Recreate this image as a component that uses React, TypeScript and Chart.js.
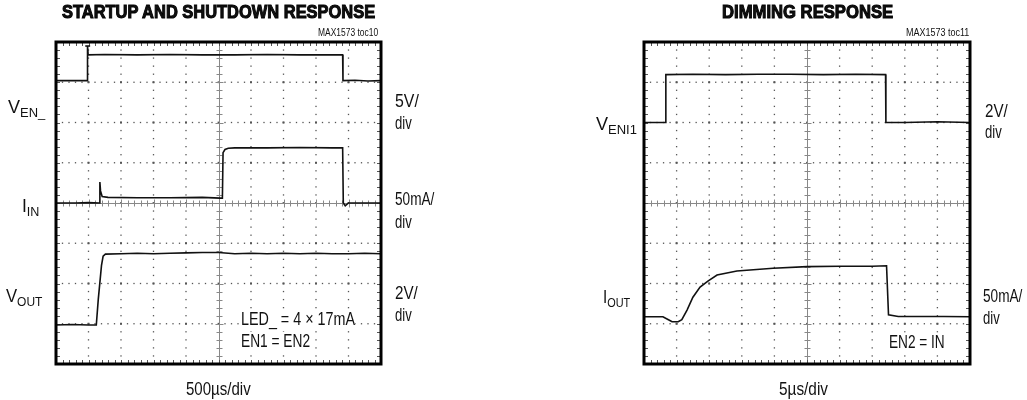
import React, { useEffect, useLayoutEffect, useRef } from "react";
import { Chart, registerables } from "chart.js";

Chart.register(...registerables);

// ---- Data (x in time divisions 0..10, y in screen divisions 0..8 from bottom) ----
// Left panel: STARTUP AND SHUTDOWN RESPONSE
const venTime = [0, 0.5, 0.97, 0.97, 0.99, 1.5, 2.5, 3.5, 4.5, 5.5, 6.5, 7.5, 8.5, 8.82, 8.83, 9.2, 9.6, 10];
const venLevel = [7.04, 7.04, 7.04, 7.9, 7.68, 7.69, 7.68, 7.69, 7.68, 7.68, 7.69, 7.68, 7.68, 7.68, 7.04, 7.05, 7.03, 7.04];
const trigTime = [0.9, 1.05];
const trigLevel = [7.9, 7.9];
const iinTime = [0, 0.6, 1.0, 1.33, 1.35, 1.37, 1.42, 1.6, 2.5, 3.5, 4.5, 5.05, 5.12, 5.14, 5.2, 5.3, 5.5, 6.5, 7.5, 8.5, 8.82, 8.84, 8.9, 9.0, 9.5, 10];
const iinLevel = [4.0, 4.0, 4.01, 4.0, 4.52, 4.3, 4.16, 4.14, 4.13, 4.13, 4.14, 4.12, 4.12, 5.25, 5.33, 5.36, 5.37, 5.37, 5.38, 5.37, 5.37, 4.0, 3.93, 4.0, 4.0, 4.0];
const voutTime = [0, 0.5, 1.0, 1.24, 1.3, 1.4, 1.45, 1.52, 2.0, 2.5, 3.0, 3.5, 4.0, 4.5, 5.0, 5.5, 6.0, 6.5, 7.0, 7.5, 8.0, 8.5, 9.0, 9.5, 10];
const voutLevel = [0.97, 0.98, 0.97, 0.97, 1.6, 2.45, 2.68, 2.73, 2.74, 2.75, 2.74, 2.75, 2.76, 2.77, 2.77, 2.74, 2.75, 2.74, 2.75, 2.74, 2.75, 2.74, 2.74, 2.75, 2.74];

// Right panel: DIMMING RESPONSE
const veniTime = [0, 0.3, 0.66, 0.67, 1.5, 2.5, 3.5, 4.5, 5.5, 6.5, 7.41, 7.42, 8.0, 9.0, 10];
const veniLevel = [6.0, 6.0, 6.0, 7.19, 7.2, 7.19, 7.2, 7.2, 7.19, 7.2, 7.19, 6.0, 6.0, 6.02, 6.0];
const ioutTime = [0, 0.3, 0.58, 0.75, 0.86, 1.05, 1.16, 1.32, 1.5, 1.72, 1.96, 2.24, 2.85, 3.96, 5.0, 6.0, 7.0, 7.44, 7.5, 7.8, 8.5, 9.2, 10];
const ioutLevel = [1.175, 1.175, 1.175, 1.1, 1.05, 1.05, 1.1, 1.34, 1.66, 1.91, 2.06, 2.21, 2.31, 2.38, 2.42, 2.43, 2.43, 2.44, 1.22, 1.18, 1.18, 1.18, 1.175];

const pts = (t: number[], v: number[]) => t.map((x, i) => ({ x, y: v[i] }));

const scopeGrid = {
  id: "scopeGrid",
  beforeDatasetsDraw(chart: any) {
    const { ctx, chartArea: a, scales } = chart;
    const x = scales.x;
    const y = scales.y;
    ctx.save();
    ctx.fillStyle = "#555";
    for (let d = 1; d < 8; d++) {
      if (d === 4) continue;
      const py = y.getPixelForValue(d);
      for (let i = 1; i < 50; i++) {
        const px = x.getPixelForValue(i / 5);
        const s = i % 5 === 0 ? 1.8 : 1.3;
        ctx.fillRect(px - s / 2, py - s / 2, s, s);
      }
    }
    for (let t = 1; t < 10; t++) {
      if (t === 5) continue;
      const px = x.getPixelForValue(t);
      for (let i = 1; i < 40; i++) {
        const py = y.getPixelForValue(i / 5);
        const s = i % 5 === 0 ? 1.8 : 1.3;
        ctx.fillRect(px - s / 2, py - s / 2, s, s);
      }
    }
    ctx.strokeStyle = "#888";
    ctx.lineWidth = 1;
    const cy = Math.round(y.getPixelForValue(4)) + 0.5;
    const cx = Math.round(x.getPixelForValue(5)) + 0.5;
    ctx.beginPath();
    ctx.moveTo(a.left, cy);
    ctx.lineTo(a.right, cy);
    ctx.moveTo(cx, a.top);
    ctx.lineTo(cx, a.bottom);
    for (let i = 1; i < 50; i++) {
      const px = Math.round(x.getPixelForValue(i / 5)) + 0.5;
      const l = i % 5 === 0 ? 4 : 3;
      ctx.moveTo(px, cy - l);
      ctx.lineTo(px, cy + l);
    }
    for (let i = 1; i < 40; i++) {
      const py = Math.round(y.getPixelForValue(i / 5)) + 0.5;
      const l = i % 5 === 0 ? 4 : 3;
      ctx.moveTo(cx - l, py);
      ctx.lineTo(cx + l, py);
    }
    ctx.stroke();
    ctx.strokeStyle = "#555";
    ctx.beginPath();
    for (let i = 1; i < 50; i++) {
      const px = Math.round(x.getPixelForValue(i / 5)) + 0.5;
      ctx.moveTo(px, a.top);
      ctx.lineTo(px, a.top + 4);
      ctx.moveTo(px, a.bottom);
      ctx.lineTo(px, a.bottom - 4);
    }
    for (let i = 1; i < 40; i++) {
      const py = Math.round(y.getPixelForValue(i / 5)) + 0.5;
      ctx.moveTo(a.left, py);
      ctx.lineTo(a.left + 4, py);
      ctx.moveTo(a.right, py);
      ctx.lineTo(a.right - 4, py);
    }
    ctx.stroke();
    ctx.restore();
  },
  afterDraw(chart: any) {
    const { ctx, chartArea: a } = chart;
    ctx.save();
    ctx.strokeStyle = "#000";
    ctx.lineWidth = 3;
    ctx.strokeRect(a.left, a.top, a.right - a.left, a.bottom - a.top);
    ctx.restore();
  },
};

function makeChart(canvas: HTMLCanvasElement, series: { x: number; y: number }[][], padding: any) {
  return new Chart(canvas, {
    type: "line",
    data: {
      datasets: series.map((d) => ({
        data: d,
        borderColor: "#111",
        borderWidth: 1.6,
        pointRadius: 0,
        fill: false,
        tension: 0,
      })),
    },
    options: {
      responsive: false,
      animation: false,
      layout: { padding },
      plugins: { legend: { display: false }, tooltip: { enabled: false }, title: { display: false } },
      scales: {
        x: { type: "linear", min: 0, max: 10, display: false },
        y: { type: "linear", min: 0, max: 8, display: false },
      },
    },
    plugins: [scopeGrid],
  } as any);
}

type LabelProps = {
  x: number;
  y: number;
  w: number;
  size: number;
  bold?: boolean;
  bg?: boolean;
  align?: "left" | "center" | "right";
  children: React.ReactNode;
};

function Label({ x, y, w, size, bold, bg, align = "left", children }: LabelProps) {
  const ref = useRef<HTMLSpanElement>(null);
  useLayoutEffect(() => {
    const el = ref.current;
    if (!el) return;
    const nat = el.offsetWidth || 1;
    const s = w / nat;
    let left = x;
    if (align === "center") left = x - w / 2;
    if (align === "right") left = x - w;
    el.style.left = left + "px";
    el.style.transform = `translateY(-50%) scaleX(${s})`;
  });
  return (
    <span
      ref={ref}
      style={{
        position: "absolute",
        left: x,
        top: y,
        fontSize: size,
        fontFamily: "'Liberation Sans', Arial, Helvetica, sans-serif",
        fontWeight: bold ? 700 : 400,
        WebkitTextStroke: bold ? "1px #000" : undefined,
        color: "#111",
        background: bg ? "#fff" : undefined,
        whiteSpace: "nowrap",
        lineHeight: 1,
        transformOrigin: "0 50%",
        display: "inline-block",
      }}
    >
      {children}
    </span>
  );
}

const Sub = ({ children }: { children: React.ReactNode }) => (
  <span style={{ fontSize: "0.72em", position: "relative", top: "0.3em" }}>{children}</span>
);

export default function App() {
  const leftRef = useRef<HTMLCanvasElement>(null);
  const rightRef = useRef<HTMLCanvasElement>(null);

  useEffect(() => {
    const c1 = makeChart(
      leftRef.current!,
      [pts(venTime, venLevel), pts(trigTime, trigLevel), pts(iinTime, iinLevel), pts(voutTime, voutLevel)],
      { left: 56, right: 132, top: 42, bottom: 36 }
    );
    const c2 = makeChart(
      rightRef.current!,
      [pts(veniTime, veniLevel), pts(ioutTime, ioutLevel)],
      { left: 131, right: 57, top: 42, bottom: 36 }
    );
    return () => {
      c1.destroy();
      c2.destroy();
    };
  }, []);

  const fs = 18.5;
  return (
    <div style={{ position: "absolute", left: 0, top: 0, width: 1027, height: 400, background: "#fff", overflow: "hidden" }}>
      <canvas ref={leftRef} width={513} height={400} style={{ position: "absolute", left: 0, top: 0 }} />
      <canvas ref={rightRef} width={514} height={400} style={{ position: "absolute", left: 513, top: 0 }} />

      {/* Left panel text */}
      <Label x={218} y={12} w={313} size={18.5} bold align="center">STARTUP AND SHUTDOWN RESPONSE</Label>
      <Label x={378} y={33} w={60} size={10} align="right">MAX1573 toc10</Label>
      <Label x={8} y={107} w={37} size={fs}>V<Sub>EN_</Sub></Label>
      <Label x={395} y={101} w={24} size={fs}>5V/</Label>
      <Label x={395} y={123} w={17} size={fs}>div</Label>
      <Label x={22} y={206} w={17} size={fs}>I<Sub>IN</Sub></Label>
      <Label x={395} y={199} w={39} size={fs}>50mA/</Label>
      <Label x={395} y={222} w={17} size={fs}>div</Label>
      <Label x={6} y={296} w={36} size={fs}>V<Sub>OUT</Sub></Label>
      <Label x={395} y={293} w={23} size={fs}>2V/</Label>
      <Label x={395} y={315} w={17} size={fs}>div</Label>
      <Label x={241} y={319} w={114} size={fs} bg>LED_ = 4 × 17mA</Label>
      <Label x={241} y={341} w={69} size={fs} bg>EN1 = EN2</Label>
      <Label x={218} y={389} w={65} size={fs} align="center">500µs/div</Label>

      {/* Right panel text */}
      <Label x={807} y={12} w={171} size={18.5} bold align="center">DIMMING RESPONSE</Label>
      <Label x={969} y={33} w={63} size={10} align="right">MAX1573 toc11</Label>
      <Label x={596} y={124} w={41} size={fs}>V<Sub>ENI1</Sub></Label>
      <Label x={985} y={111} w={23} size={fs}>2V/</Label>
      <Label x={985} y={132} w={17} size={fs}>div</Label>
      <Label x={603} y={297} w={27} size={fs}>I<Sub>OUT</Sub></Label>
      <Label x={983} y={296} w={39} size={fs}>50mA/</Label>
      <Label x={983} y={318} w={17} size={fs}>div</Label>
      <Label x={889} y={342} w={56} size={fs} bg>EN2 = IN</Label>
      <Label x={803} y={389} w={49} size={fs} align="center">5µs/div</Label>
    </div>
  );
}
